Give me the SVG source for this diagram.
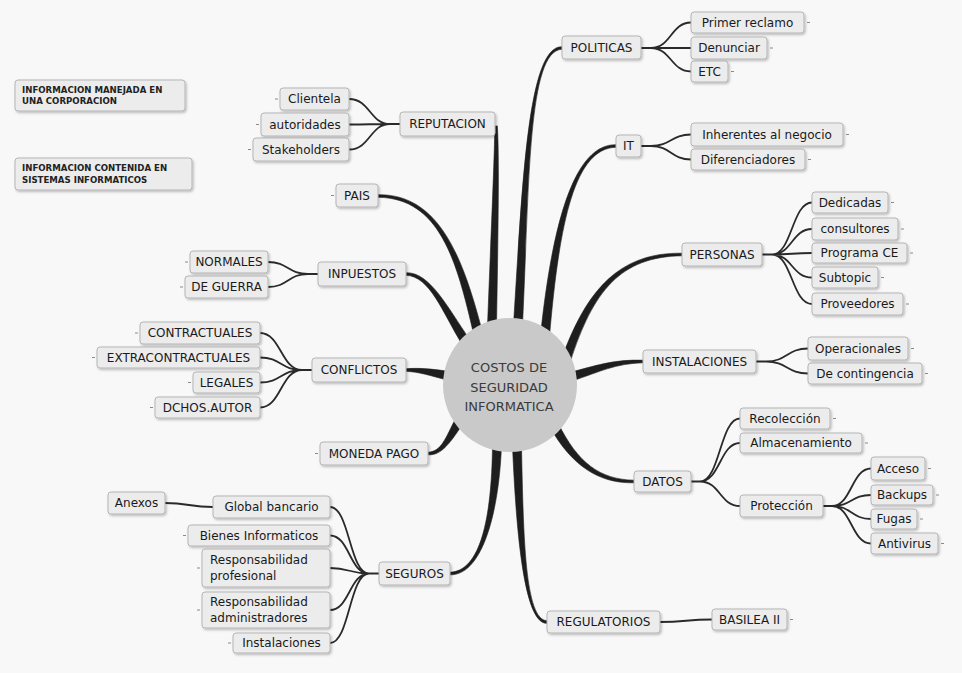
<svg xmlns="http://www.w3.org/2000/svg" width="962" height="673" viewBox="0 0 962 673">
<defs>
<filter id="sh" x="-10%" y="-20%" width="130%" height="160%">
<feDropShadow dx="1.2" dy="1.5" stdDeviation="0.8" flood-color="#000" flood-opacity="0.25"/>
</filter>
<style>
.n rect{fill:#ececec;stroke:#b5b5b5;stroke-width:1;filter:url(#sh)}
.n text{font-family:"DejaVu Sans","Liberation Sans",sans-serif;font-size:12px;fill:#1a1a1a;text-anchor:middle}
.info text{font-family:"DejaVu Sans","Liberation Sans",sans-serif;font-size:8.6px;font-weight:bold;fill:#222;text-anchor:start}
.main path{fill:#1e1e1e;stroke:#1e1e1e;stroke-width:0.6;stroke-linejoin:round}
.sub{fill:none;stroke:#2a2a2a;stroke-width:1.8;stroke-linecap:round}
.dash{fill:none;stroke:#8a8a8a;stroke-width:1}
.center text{font-family:"DejaVu Sans","Liberation Sans",sans-serif;font-size:13px;fill:#3a3a3a;text-anchor:middle}
</style>
</defs>
<rect width="962" height="673" fill="#f8f8f8"/>

<g id="connectors">
<g class="main">
<path d="M496.5,326.1 C498.4,220.1 499.2,149.9 497.3,125.9 L494.7,126.1 C494.8,150.1 491.6,219.9 487.5,325.9 Z"/>
<path d="M522.5,325.2 C529.4,180.2 528,50.2 562,49.3 L562,46.7 C528,45.8 522.6,179.8 513.5,324.8 Z"/>
<path d="M549.5,336.4 C559.4,220.3 575,148.2 616,147.3 L616,144.7 C575,143.8 552.6,219.7 540.5,335.6 Z"/>
<path d="M570.3,361.5 C593.2,291.1 620,256.7 682,255.8 L682,253.2 C620,252.3 586.8,288.9 561.7,358.5 Z"/>
<path d="M571.3,381.3 C601,371.3 615,363.7 643,362.8 L643,360.2 C615,359.3 599,364.7 568.7,372.7 Z"/>
<path d="M550,427.1 C572,466.6 600,483.7 634,482.8 L634,480.2 C600,479.3 578,463.4 558,422.9 Z"/>
<path d="M512.5,446.1 C516.6,541.1 525,624.2 547,623.3 L547,620.7 C525,619.8 523.4,538.9 521.5,445.9 Z"/>
<path d="M492.5,445.9 C491.6,519.9 480,571.3 450,572.2 L450,574.8 C480,575.7 498.4,520.1 501.5,446.1 Z"/>
<path d="M456.1,417.7 C445.1,438.2 442,451.3 428,452.2 L428,454.8 C442,455.7 450.9,441.8 463.9,422.3 Z"/>
<path d="M449.9,371.6 C430.7,368.7 420,367.8 406,368.7 L406,371.3 C420,372.2 429.3,375.3 448.1,380.4 Z"/>
<path d="M469.8,339.5 C447.8,308.1 430,271.8 406,272.7 L406,275.3 C430,276.2 442.2,311.9 462.2,344.5 Z"/>
<path d="M482.4,331.9 C463.3,259.2 440,193.8 378,194.7 L378,197.3 C440,198.2 456.7,260.8 473.6,334.1 Z"/>
</g>
<g class="sub">
<path d="M400,124 L390,124 C370,124 370,99 349,99 M390,124 C370,124 370,124.5 349,124.5 M390,124 C370,124 370,149.5 349,149.5"/>
<path d="M641,48 L651,48 C671,48 671,22.5 691,22.5 M651,48 L691,48 M651,48 C671,48 671,71.5 691,71.5"/>
<path d="M641,146 L651,146 C671,146 671,134.5 691,134.5 M651,146 C671,146 671,159.5 691,159.5"/>
<path d="M762,254.5 L772,254.5 C792,254.5 792,202.5 812,202.5 M772,254.5 C792,254.5 792,229 812,229 M772,254.5 C792,254.5 792,253 812,253 M772,254.5 C792,254.5 792,277.5 812,277.5 M772,254.5 C792,254.5 792,304 812,304"/>
<path d="M756,361.5 L766,361.5 C787,361.5 787,348.5 808,348.5 M766,361.5 C787,361.5 787,373.5 808,373.5"/>
<path d="M691,481.5 L700,481.5 C720,481.5 720,418.5 740,418.5 M700,481.5 C720,481.5 720,443 740,443 M700,481.5 C720,481.5 720,506 740,506"/>
<path d="M823,506 L832,506 C851.5,506 851.5,468.5 871,468.5 M832,506 C851.5,506 851.5,495 871,495 M832,506 C851.5,506 851.5,519 871,519 M832,506 C851.5,506 851.5,543.5 871,543.5"/>
<path d="M660,622 C686,622 686,619.5 712,619.5"/>
<path d="M318,274 L308,274 C288,274 288,262 268,262 M308,274 C288,274 288,287 268,287"/>
<path d="M312,370 L302,370 C281,370 281,333 260,333 M302,370 C281,370 281,357.5 260,357.5 M302,370 C281,370 281,382.5 260,382.5 M302,370 C281,370 281,407.5 260,407.5"/>
<path d="M379,573.5 L369,573.5 C349.5,573.5 349.5,507 330,507 M369,573.5 C349.5,573.5 349.5,535.5 330,535.5 M369,573.5 C349.5,573.5 349.5,568 330,568 M369,573.5 C349.5,573.5 349.5,610 330,610 M369,573.5 C349.5,573.5 349.5,643 330,643"/>
<path d="M213,507 C189,507 189,503 165,503"/>
</g>
</g>

<g id="center" class="center">
<circle cx="510" cy="385" r="67" fill="#c9c9c9"/>
<text x="509" y="372">COSTOS DE</text>
<text x="509" y="392">SEGURIDAD</text>
<text x="509" y="411">INFORMATICA</text>
</g>

<g id="info1" class="n info"><rect x="15" y="80" width="170" height="31" rx="3"/><text x="22" y="93">INFORMACION MANEJADA EN</text><text x="22" y="104">UNA CORPORACION</text></g>
<g id="info2" class="n info"><rect x="15" y="158" width="177" height="32" rx="3"/><text x="22" y="171">INFORMACION CONTENIDA EN</text><text x="22" y="183">SISTEMAS INFORMATICOS</text></g>

<g id="clientela" class="n"><rect x="280" y="88" width="69" height="22" rx="3"/><text x="314.5" y="103">Clientela</text></g>
<g id="autoridades" class="n"><rect x="261" y="113" width="88" height="23" rx="3"/><text x="305" y="128.5">autoridades</text></g>
<g id="stakeholders" class="n"><rect x="253" y="138" width="96" height="23" rx="3"/><text x="301" y="153.5">Stakeholders</text></g>
<g id="reputacion" class="n"><rect x="400" y="112" width="95" height="24" rx="3"/><text x="447.5" y="128">REPUTACION</text></g>
<g id="pais" class="n"><rect x="336" y="184" width="42" height="23" rx="3"/><text x="357" y="200">PAIS</text></g>
<g id="normales" class="n"><rect x="190" y="251" width="78" height="22" rx="3"/><text x="229" y="266">NORMALES</text></g>
<g id="deguerra" class="n"><rect x="185" y="276" width="83" height="22" rx="3"/><text x="226.5" y="291">DE GUERRA</text></g>
<g id="inpuestos" class="n"><rect x="318" y="262" width="88" height="24" rx="3"/><text x="362" y="278">INPUESTOS</text></g>
<g id="contractuales" class="n"><rect x="140" y="322" width="120" height="22" rx="3"/><text x="200" y="337">CONTRACTUALES</text></g>
<g id="extracontractuales" class="n"><rect x="97" y="347" width="163" height="21" rx="3"/><text x="178.5" y="361.5">EXTRACONTRACTUALES</text></g>
<g id="legales" class="n"><rect x="193" y="372" width="67" height="21" rx="3"/><text x="226.5" y="386.5">LEGALES</text></g>
<g id="dchosautor" class="n"><rect x="155" y="397" width="105" height="21" rx="3"/><text x="207.5" y="411.5">DCHOS.AUTOR</text></g>
<g id="conflictos" class="n"><rect x="312" y="358" width="94" height="24" rx="3"/><text x="359" y="374">CONFLICTOS</text></g>
<g id="monedapago" class="n"><rect x="320" y="442" width="108" height="23" rx="3"/><text x="374" y="457.5">MONEDA PAGO</text></g>
<g id="anexos" class="n"><rect x="108" y="492" width="57" height="22" rx="3"/><text x="136.5" y="507">Anexos</text></g>
<g id="globalbancario" class="n"><rect x="213" y="496" width="117" height="22" rx="3"/><text x="271.5" y="511">Global bancario</text></g>
<g id="bienes" class="n"><rect x="188" y="525" width="142" height="21" rx="3"/><text x="259" y="539.5">Bienes Informaticos</text></g>
<g id="respprof" class="n"><rect x="202" y="549" width="128" height="38" rx="3"/><text x="210" y="564" style="text-anchor:start">Responsabilidad</text><text x="210" y="580" style="text-anchor:start">profesional</text></g>
<g id="respadmin" class="n"><rect x="202" y="592" width="128" height="36" rx="3"/><text x="210" y="606" style="text-anchor:start">Responsabilidad</text><text x="210" y="622" style="text-anchor:start">administradores</text></g>
<g id="instalaciones-leaf" class="n"><rect x="233" y="633" width="97" height="20" rx="3"/><text x="281.5" y="647">Instalaciones</text></g>
<g id="seguros" class="n"><rect x="379" y="562" width="71" height="23" rx="3"/><text x="414.5" y="577.5">SEGUROS</text></g>

<g id="politicas" class="n"><rect x="562" y="36" width="79" height="23" rx="3"/><text x="601.5" y="51.5">POLITICAS</text></g>
<g id="primerreclamo" class="n"><rect x="691" y="12" width="113" height="21" rx="3"/><text x="747.5" y="26.5">Primer reclamo</text></g>
<g id="denunciar" class="n"><rect x="691" y="37" width="76" height="22" rx="3"/><text x="729" y="52">Denunciar</text></g>
<g id="etc" class="n"><rect x="691" y="61" width="37" height="21" rx="3"/><text x="709.5" y="75.5">ETC</text></g>
<g id="it" class="n"><rect x="616" y="135" width="25" height="22" rx="3"/><text x="628.5" y="150">IT</text></g>
<g id="inherentes" class="n"><rect x="691" y="123" width="152" height="23" rx="3"/><text x="767" y="138.5">Inherentes al negocio</text></g>
<g id="diferenciadores" class="n"><rect x="691" y="149" width="114" height="21" rx="3"/><text x="748" y="163.5">Diferenciadores</text></g>
<g id="personas" class="n"><rect x="682" y="243" width="80" height="23" rx="3"/><text x="722" y="258.5">PERSONAS</text></g>
<g id="dedicadas" class="n"><rect x="812" y="192" width="76" height="21" rx="3"/><text x="850" y="206.5">Dedicadas</text></g>
<g id="consultores" class="n"><rect x="812" y="218" width="86" height="22" rx="3"/><text x="855" y="233">consultores</text></g>
<g id="programace" class="n"><rect x="812" y="243" width="95" height="20" rx="3"/><text x="859.5" y="257">Programa CE</text></g>
<g id="subtopic" class="n"><rect x="812" y="267" width="66" height="21" rx="3"/><text x="845" y="281.5">Subtopic</text></g>
<g id="proveedores" class="n"><rect x="812" y="293" width="91" height="22" rx="3"/><text x="857.5" y="308">Proveedores</text></g>
<g id="instalaciones" class="n"><rect x="643" y="350" width="113" height="23" rx="3"/><text x="699.5" y="365.5">INSTALACIONES</text></g>
<g id="operacionales" class="n"><rect x="808" y="337" width="100" height="23" rx="3"/><text x="858" y="352.5">Operacionales</text></g>
<g id="decontingencia" class="n"><rect x="808" y="363" width="114" height="21" rx="3"/><text x="865" y="377.5">De contingencia</text></g>
<g id="datos" class="n"><rect x="634" y="471" width="57" height="21" rx="3"/><text x="662.5" y="485.5">DATOS</text></g>
<g id="recoleccion" class="n"><rect x="740" y="408" width="90" height="21" rx="3"/><text x="785" y="422.5">Recolección</text></g>
<g id="almacenamiento" class="n"><rect x="740" y="433" width="122" height="20" rx="3"/><text x="801" y="447">Almacenamiento</text></g>
<g id="proteccion" class="n"><rect x="740" y="495" width="83" height="22" rx="3"/><text x="781.5" y="510">Protección</text></g>
<g id="acceso" class="n"><rect x="871" y="457" width="54" height="23" rx="3"/><text x="898" y="472.5">Acceso</text></g>
<g id="backups" class="n"><rect x="871" y="485" width="62" height="20" rx="3"/><text x="902" y="499">Backups</text></g>
<g id="fugas" class="n"><rect x="871" y="509" width="46" height="20" rx="3"/><text x="894" y="523">Fugas</text></g>
<g id="antivirus" class="n"><rect x="871" y="533" width="67" height="21" rx="3"/><text x="904.5" y="547.5">Antivirus</text></g>
<g id="regulatorios" class="n"><rect x="547" y="611" width="113" height="22" rx="3"/><text x="603.5" y="626">REGULATORIOS</text></g>
<g id="basilea" class="n"><rect x="712" y="609" width="75" height="21" rx="3"/><text x="749.5" y="623.5">BASILEA II</text></g>

<g id="collapse-marks" class="dash">
<path d="M275,99h3 M256,124.5h3 M248,149.5h3 M331,195.5h3 M185,262h3 M180,287h3 M135,333h3 M92,357.5h3 M188,382.5h3 M150,407.5h3 M315,453.5h3 M183,535.5h3 M197,568h3 M197,610h3 M228,643h3"/>
<path d="M807,22.5h3 M770,48h3 M731,71.5h3 M846,134.5h3 M808,159.5h3 M891,202.5h3 M901,229h3 M910,253h3 M881,277.5h3 M906,304h3 M911,348.5h3 M925,373.5h3 M833,418.5h3 M865,443h3 M928,468.5h3 M936,495h3 M920,519h3 M941,543.5h3 M790,619.5h3"/>
</g>
</svg>
